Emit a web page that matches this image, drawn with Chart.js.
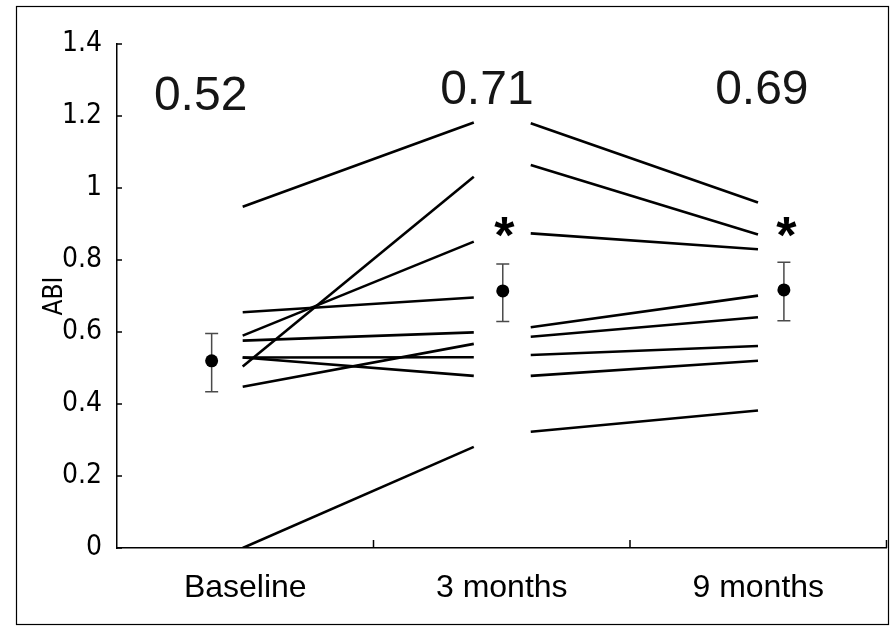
<!DOCTYPE html>
<html>
<head>
<meta charset="utf-8">
<script src="https://cdn.jsdelivr.net/npm/chart.js@4.4.0/dist/chart.umd.min.js"></script>
<style>
  body { margin: 0; background: #fff; }
  canvas { display: block; }
</style>
</head>
<body>
<canvas id="abiChart" width="893" height="627"></canvas>
<script>
// categories and values
const categories = ['Baseline', '3 months', '9 months'];
const baselineStart = [0.948, 0.655, 0.590, 0.576, 0.504, 0.529, 0.529, 0.448, 0.0];
const month3End     = [1.182, 0.696, 0.851, 0.599, 1.031, 0.530, 0.478, 0.567, 0.281];
const month3Start   = [1.180, 1.064, 0.874, 0.613, 0.587, 0.536, 0.478, 0.323];
const month9End     = [0.960, 0.871, 0.830, 0.701, 0.641, 0.561, 0.520, 0.382];
const meanValues = [0.520, 0.714, 0.717];
const errLow     = [0.434, 0.629, 0.631];
const errHigh    = [0.596, 0.789, 0.794];
const meanLabels = ['0.52', '0.71', '0.69'];
const significant = [false, true, true];
const starLevel = 0.892;

// where things sit along the x scale (0..3, one unit per category)
const X_BASE = 0.49, X_3M_END = 1.391, X_3M_START = 1.613, X_9M_END = 2.499;
const X_MEAN = [0.369, 1.504, 2.60];
const X_STAR = [0, 1.51, 2.61];
const X_LABEL = [0.326, 1.442, 2.514];
const Y_LABEL = [1.217, 1.233, 1.233];

const narrowFont = '"Liberation Sans Narrow", "DejaVu Sans Condensed", sans-serif';

const datasets = [];
for (let i = 0; i < baselineStart.length; i++) {
  datasets.push({
    data: [{x: X_BASE, y: baselineStart[i]}, {x: X_3M_END, y: month3End[i]}],
    showLine: true, borderColor: '#000', borderWidth: 2.6, pointRadius: 0
  });
}
for (let i = 0; i < month3Start.length; i++) {
  datasets.push({
    data: [{x: X_3M_START, y: month3Start[i]}, {x: X_9M_END, y: month9End[i]}],
    showLine: true, borderColor: '#000', borderWidth: 2.6, pointRadius: 0
  });
}
datasets.push({
  data: meanValues.map((v, i) => ({x: X_MEAN[i], y: v})),
  showLine: false, pointRadius: 6.5, pointBackgroundColor: '#000', pointBorderWidth: 0
});

// error bars behind the mean dots
const errorBars = {
  id: 'errorBars',
  beforeDatasetsDraw(chart) {
    const {ctx, scales: {x, y}} = chart;
    ctx.save();
    ctx.strokeStyle = '#4a4a4a';
    ctx.lineWidth = 1.5;
    meanValues.forEach((v, i) => {
      const px = x.getPixelForValue(X_MEAN[i]);
      const lo = y.getPixelForValue(errLow[i]);
      const hi = y.getPixelForValue(errHigh[i]);
      ctx.beginPath();
      ctx.moveTo(px, lo); ctx.lineTo(px, hi);
      ctx.moveTo(px - 6.5, lo); ctx.lineTo(px + 6.5, lo);
      ctx.moveTo(px - 6.5, hi); ctx.lineTo(px + 6.5, hi);
      ctx.stroke();
    });
    ctx.restore();
  }
};

// inward tick marks, mean labels, stars and outer frame
const extras = {
  id: 'extras',
  afterDraw(chart) {
    const {ctx, chartArea, scales: {x, y}} = chart;
    ctx.save();
    ctx.strokeStyle = '#000';
    ctx.lineWidth = 1.5;
    ctx.beginPath();
    y.ticks.forEach(t => {
      const py = y.getPixelForValue(t.value);
      ctx.moveTo(chartArea.left, py); ctx.lineTo(chartArea.left + 5, py);
    });
    [1, 2, 3].forEach(v => {
      const px = x.getPixelForValue(v);
      ctx.moveTo(px, chartArea.bottom); ctx.lineTo(px, chartArea.bottom - 8);
    });
    ctx.stroke();

    ctx.lineWidth = 1.2;
    ctx.strokeRect(16.5, 6.5, 872, 618);

    ctx.fillStyle = '#151515';
    ctx.font = '48px "Liberation Sans", Arial, sans-serif';
    ctx.textAlign = 'center';
    ctx.textBaseline = 'alphabetic';
    meanLabels.forEach((txt, i) => {
      ctx.fillText(txt, x.getPixelForValue(X_LABEL[i]), y.getPixelForValue(Y_LABEL[i]));
    });

    ctx.fillStyle = '#000';
    ctx.font = 'bold 52px "Liberation Sans", Arial, sans-serif';
    const m = ctx.measureText('*');
    const shift = (m.actualBoundingBoxAscent - m.actualBoundingBoxDescent) / 2;
    significant.forEach((s, i) => {
      if (!s) return;
      ctx.fillText('*', x.getPixelForValue(X_STAR[i]), y.getPixelForValue(starLevel) + shift);
    });
    ctx.restore();
  }
};

new Chart(document.getElementById('abiChart'), {
  type: 'scatter',
  data: { datasets },
  options: {
    responsive: false,
    animation: false,
    layout: { padding: { top: 44, right: 4, bottom: 0, left: 0 } },
    plugins: { legend: { display: false }, tooltip: { enabled: false } },
    scales: {
      x: {
        type: 'linear', min: 0, max: 3,
        afterBuildTicks: scale => { scale.ticks = categories.map((c, i) => ({value: i + 0.5})); },
        afterFit: scale => { scale.height = 79; },
        grid: { display: true, drawOnChartArea: false, drawTicks: false },
        border: { color: '#000', width: 1.5 },
        ticks: {
          autoSkip: false, maxRotation: 0, padding: 21, color: '#000',
          font: { family: '"Liberation Sans", Arial, sans-serif', size: 32 },
          callback: (v, i) => categories[i]
        }
      },
      y: {
        min: 0, max: 1.4,
        afterFit: scale => { scale.width = 117; },
        grid: { display: true, drawOnChartArea: false, drawTicks: false },
        border: { color: '#000', width: 1.5 },
        ticks: {
          stepSize: 0.2, padding: 15, color: '#000',
          font: { family: narrowFont, size: 28 },
          callback: v => String(Number(v.toFixed(1)))
        },
        title: {
          display: true, text: 'ABI', color: '#000',
          padding: { top: 40, bottom: 0 },
          font: { family: narrowFont, size: 26 }
        }
      }
    }
  },
  plugins: [errorBars, extras]
});
</script>
</body>
</html>
